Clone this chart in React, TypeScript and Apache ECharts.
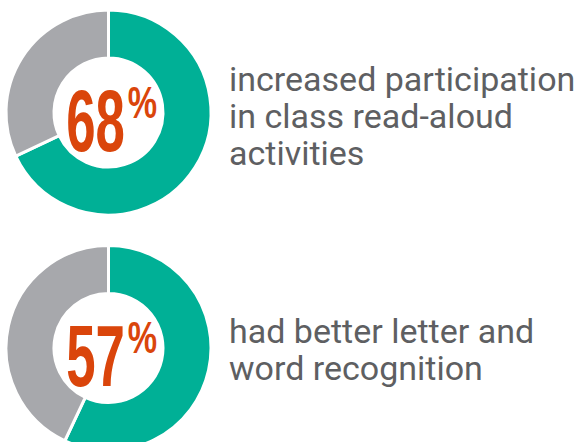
import React, { useEffect, useRef } from "react";
import * as echarts from "echarts";

const categories = ["Yes", "No"];
const stats = [68, 57];
const descriptions = [
  ["increased participation", "in class read-aloud", "activities"],
  ["had better letter and", "word recognition"],
];

const TEAL = "#00b096";
const GRAY = "#a7a8ac";
const ORANGE = "#da450b";
const TEXT = "#5e5f62";

export default function App() {
  const ref = useRef<HTMLDivElement>(null);
  useEffect(() => {
    if (!ref.current) return;
    const chart = echarts.init(ref.current, null, { renderer: "svg" });
    const centers = [
      [108.5, 112.5],
      [108.5, 348],
    ];
    const series = stats.map((v, i) => ({
      type: "pie",
      center: centers[i],
      radius: [54.5, 102.5],
      startAngle: 90,
      clockwise: true,
      silent: true,
      label: { show: false },
      labelLine: { show: false },
      itemStyle: { borderColor: "#ffffff", borderWidth: 3 },
      data: [
        { name: categories[0], value: v, itemStyle: { color: TEAL } },
        { name: categories[1], value: 100 - v, itemStyle: { color: GRAY } },
      ],
    }));
    const graphic: any[] = [];
    stats.forEach((v, i) => {
      const [cx, cy] = centers[i];
      graphic.push({
        type: "text",
        x: cx - 13,
        y: cy + 7.5,
        scaleX: 0.6,
        style: {
          text: String(v),
          x: 0,
          y: 0,
          textAlign: "center",
          textVerticalAlign: "middle",
          font: "bold 88px 'Liberation Sans'",
          fill: ORANGE,
        },
      });
      graphic.push({
        type: "text",
        x: cx + 34,
        y: cy - 10,
        scaleX: 0.75,
        style: {
          text: "%",
          x: 0,
          y: 0,
          textAlign: "center",
          textVerticalAlign: "middle",
          font: "bold 44px 'Liberation Sans'",
          fill: ORANGE,
        },
      });
    });
    const blockTops = [79, 331];
    descriptions.forEach((lines, i) => {
      lines.forEach((line, j) => {
        graphic.push({
          type: "text",
          x: 229,
          y: blockTops[i] + j * 37,
          style: {
            text: line,
            x: 0,
            y: 0,
            textAlign: "left",
            textVerticalAlign: "middle",
            font: "34px Roboto",
            fill: TEXT,
          },
        });
      });
    });
    chart.setOption({
      animation: false,
      backgroundColor: "#ffffff",
      series,
      graphic,
    });
    return () => chart.dispose();
  }, []);
  return (
    <div
      ref={ref}
      style={{ position: "fixed", left: 0, top: 0, width: 582, height: 442 }}
    />
  );
}
